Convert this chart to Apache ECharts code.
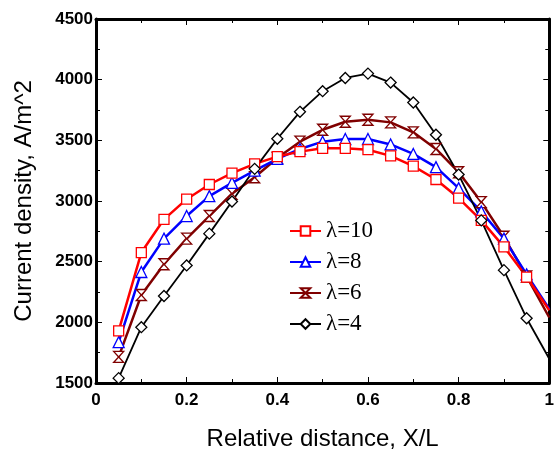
<!DOCTYPE html>
<html>
<head>
<meta charset="utf-8">
<script src="https://cdn.jsdelivr.net/npm/echarts@6/dist/echarts.min.js"></script>
<style>
  html, body { margin: 0; padding: 0; background: #fff; }
  #chart { width: 557px; height: 456px; }
</style>
</head>
<body>
<div id="chart"></div>
<script>
// relative distance X/L
var xValues = [0.05, 0.1, 0.15, 0.2, 0.25, 0.3, 0.35, 0.4, 0.45, 0.5,
               0.55, 0.6, 0.65, 0.7, 0.75, 0.8, 0.85, 0.9, 0.95, 1.0];
// current density, A/m^2
var lambda10 = [1930, 2575, 2849, 3015, 3136, 3229, 3306, 3366, 3407, 3434,
                3434, 3423, 3372, 3287, 3177, 3024, 2840, 2622, 2373, 2100];
var lambda8 = [1837, 2415, 2690, 2876, 3040, 3150, 3251, 3347, 3429, 3489,
               3511, 3511, 3466, 3388, 3279, 3106, 2914, 2690, 2395, 2110];
var lambda6 = [1715, 2225, 2479, 2690, 2876, 3060, 3196, 3355, 3489, 3587,
               3653, 3670, 3648, 3566, 3429, 3237, 2991, 2705, 2378, 2040];
var lambda4 = [1540, 1960, 2217, 2469, 2731, 2996, 3265, 3513, 3735, 3905,
               4014, 4050, 3976, 3812, 3546, 3218, 2840, 2430, 2034, 1700];

var legendNames = ['λ=10', 'λ=8', 'λ=6', 'λ=4'];

var chart = echarts.init(document.getElementById('chart'));

// 把 x 和 y 拼成点, 最后一个点在边框上不画符号
function toPoints(ys) {
  return ys.map(function (y, i) {
    var p = { value: [xValues[i], y] };
    if (i === ys.length - 1) p.symbol = 'none';
    return p;
  });
}

var hourglass = 'path://M0,0 L10,0 L0,10 L10,10 Z';

function makeSeries(name, ys, color, symbol, size, width) {
  return {
    name: name,
    type: 'line',
    data: toPoints(ys),
    symbol: symbol,
    symbolSize: size,
    showAllSymbol: true,
    lineStyle: { color: color, width: width },
    itemStyle: { color: '#fff', borderColor: color, borderWidth: 1.3 },
    emphasis: { disabled: true },
    animation: false
  };
}

var axisText = { fontFamily: 'Liberation Sans', fontWeight: 'bold', fontSize: 17, color: '#000' };
var nameText = { fontFamily: 'Liberation Sans', fontSize: 24, color: '#000' };
var tick = { show: true, inside: true, length: 6, lineStyle: { color: '#000', width: 1 } };
var minor = { show: true, splitNumber: 2, length: 4, lineStyle: { color: '#000', width: 1 } };
var frameLine = { show: true, onZero: false, lineStyle: { color: '#000', width: 3 } };

var option = {
  backgroundColor: '#fff',
  grid: { left: 96, right: 6, top: 19, bottom: 71 },
  legend: {
    data: legendNames,
    orient: 'vertical',
    left: 289,
    top: 219,
    padding: 0,
    itemWidth: 31,
    itemHeight: 12,
    itemGap: 7,
    textStyle: { fontFamily: 'Liberation Serif', fontSize: 23, color: '#000', lineHeight: 24 }
  },
  xAxis: [{
    type: 'value', min: 0, max: 1, interval: 0.2,
    name: 'Relative distance, X/L', nameLocation: 'middle', nameGap: 44,
    nameTextStyle: nameText,
    axisLine: frameLine, axisTick: tick, minorTick: minor,
    axisLabel: Object.assign({ margin: 9 }, axisText),
    splitLine: { show: false }
  }, {
    type: 'value', min: 0, max: 1, interval: 0.2, position: 'top',
    axisLine: frameLine, axisTick: tick, minorTick: minor,
    axisLabel: { show: false },
    splitLine: { show: false }
  }],
  yAxis: [{
    type: 'value', min: 1500, max: 4500, interval: 500,
    name: 'Current density, A/m^2', nameLocation: 'middle', nameGap: 60,
    nameTextStyle: nameText,
    axisLine: frameLine, axisTick: tick, minorTick: minor,
    axisLabel: Object.assign({ margin: 3, formatter: function (v) { return String(v); } }, axisText),
    splitLine: { show: false }
  }, {
    type: 'value', min: 1500, max: 4500, interval: 500, position: 'right',
    axisLine: frameLine, axisTick: tick, minorTick: minor,
    axisLabel: { show: false },
    splitLine: { show: false }
  }],
  series: [
    makeSeries(legendNames[2], lambda6, '#800000', hourglass, [10, 11], 2.5),
    makeSeries(legendNames[1], lambda8, '#0000ff', 'triangle', 11, 2.5),
    makeSeries(legendNames[0], lambda10, '#ff0000', 'rect', 10, 2.5),
    makeSeries(legendNames[3], lambda4, '#000000', 'diamond', 11, 1.8)
  ]
};

chart.setOption(option);
</script>
</body>
</html>
